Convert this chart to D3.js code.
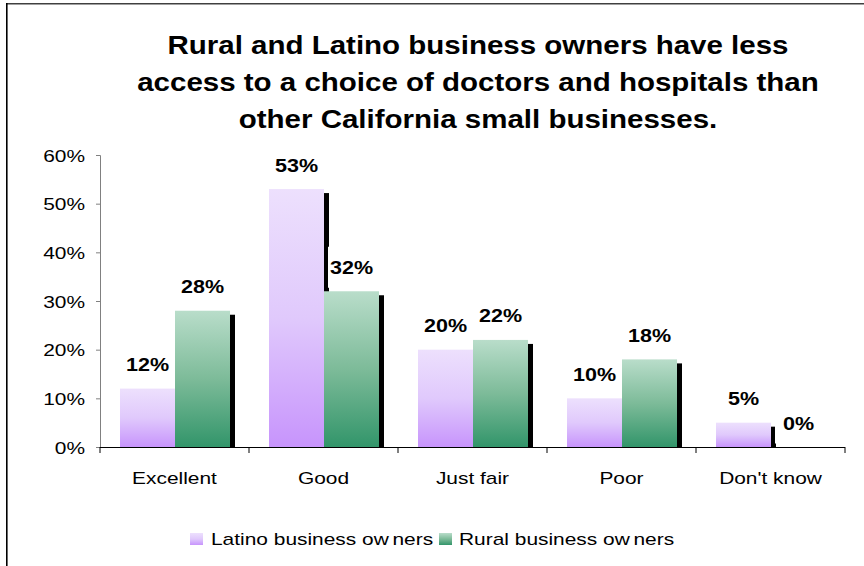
<!DOCTYPE html>
<html>
<head>
<meta charset="utf-8">
<script src="https://cdn.jsdelivr.net/npm/d3@7"></script>
<style>
  body { margin: 0; background: #fff; }
  svg { display: block; font-family: "Liberation Sans", Arial, sans-serif; }
</style>
</head>
<body>
<svg width="864" height="566"></svg>
<script>
// data
const categories = ["Excellent", "Good", "Just fair", "Poor", "Don't know"];
const seriesNames = ["Latino business owners", "Rural business owners"];
const latino = [0.12, 0.53, 0.20, 0.10, 0.05];
const rural = [0.28, 0.32, 0.22, 0.18, 0.00];
const yTicks = [0, 0.1, 0.2, 0.3, 0.4, 0.5, 0.6];
const titleLines = [
  "Rural and Latino business owners have less",
  "access to a choice of doctors and hospitals than",
  "other California small businesses."
];

const SX = 1.23; // the original text is stretched sideways
const svg = d3.select("svg");

// frame (top + left edge only)
svg.append("line").attr("x1", 6).attr("x2", 864).attr("y1", 3.8).attr("y2", 3.8)
  .attr("stroke", "#404040").attr("stroke-width", 1.6);
svg.append("line").attr("x1", 6.8).attr("x2", 6.8).attr("y1", 3).attr("y2", 566)
  .attr("stroke", "#000").attr("stroke-width", 1.6);

// gradients
const defs = svg.append("defs");
function grad(id, stops) {
  const g = defs.append("linearGradient").attr("id", id)
    .attr("x1", 0).attr("y1", 0).attr("x2", 0).attr("y2", 1);
  stops.forEach(s => g.append("stop").attr("offset", s[0]).attr("stop-color", s[1]));
}
grad("gLatino", [[0, "#EDE0FD"], [0.5, "#E0C9FC"], [1, "#C794FC"]]);
grad("gRural", [[0, "#B9DDCA"], [0.5, "#7DBB99"], [1, "#32956A"]]);
const fills = ["url(#gLatino)", "url(#gRural)"];

// helper for stretched text
function stext(parent, x, y, str, size, anchor, bold, sx) {
  return parent.append("text")
    .attr("transform", `translate(${x},${y}) scale(${sx || SX},1)`)
    .attr("text-anchor", anchor)
    .attr("font-size", size)
    .attr("font-weight", bold ? "bold" : "normal")
    .attr("fill", "#000")
    .text(str);
}

// title
titleLines.forEach((t, i) => stext(svg, 478, 54 + i * 37, t, 25, "middle", true, 1.18));

// scales
const x0 = d3.scaleBand().domain(categories).range([100, 845]).paddingInner(0);
const x1 = d3.scaleBand().domain(seriesNames).range([0, 110]);
const groupOffset = 20;
const y = d3.scaleLinear().domain([0, 0.6]).range([447, 155]);

// y axis
const yAxis = svg.append("g").attr("transform", "translate(100,0)")
  .call(d3.axisLeft(y).tickValues(yTicks).tickSize(4).tickFormat(""));
yAxis.select(".domain").attr("stroke", "#808080");
yAxis.selectAll(".tick line").attr("stroke", "#808080");
yTicks.forEach(v => stext(svg, 85, y(v) + 6.5, d3.format(".0%")(v), 17, "end", false));

// data rows
const rows = [];
categories.forEach((c, i) => {
  [latino[i], rural[i]].forEach((v, s) => rows.push({ cat: c, s: s, v: v }));
});
const bx = d => x0(d.cat) + groupOffset + x1(seriesNames[d.s]);
const bw = x1.bandwidth();

// shadows
svg.append("g").selectAll("rect").data(rows.filter(d => d.v > 0)).join("rect")
  .attr("x", d => bx(d) + 5)
  .attr("y", d => y(d.v) + 4)
  .attr("width", bw)
  .attr("height", d => Math.max(0, y(0) - y(d.v) - 4))
  .attr("fill", "#000");

// label boxes
const labW = 41;
svg.append("g").selectAll("rect").data(rows).join("rect")
  .attr("x", d => bx(d) + bw / 2 - labW / 2 - 3)
  .attr("y", d => y(d.v) - 24 - 20.5)
  .attr("width", labW + 6)
  .attr("height", 41)
  .attr("fill", "#fff");

// bars
svg.append("g").selectAll("rect").data(rows.filter(d => d.v > 0)).join("rect")
  .attr("x", d => bx(d))
  .attr("y", d => y(d.v))
  .attr("width", bw)
  .attr("height", d => y(0) - y(d.v))
  .attr("fill", d => fills[d.s]);

// value labels
const labG = svg.append("g");
rows.forEach(d => stext(labG, bx(d) + bw / 2, y(d.v) - 24 + 6.5,
  d3.format(".0%")(d.v), 17.5, "middle", true));

// x axis
const xAxis = svg.append("g").attr("transform", "translate(0,447)")
  .call(d3.axisBottom(x0).tickSize(0).tickFormat(""));
xAxis.select(".domain").attr("stroke", "#000").attr("d", "M100,0.5H845");
svg.append("g").selectAll("line").data(categories.concat(["end"])).join("line")
  .attr("x1", (d, i) => i < categories.length ? x0(d) : x0.range()[1])
  .attr("x2", (d, i) => i < categories.length ? x0(d) : x0.range()[1])
  .attr("y1", 447).attr("y2", 453)
  .attr("stroke", "#000");
categories.forEach(c => stext(svg, x0(c) + x0.bandwidth() / 2, 484, c, 17, "middle", false));

// legend
const legendItems = [
  { name: seriesNames[0], mark: 190, text: 211 },
  { name: seriesNames[1], mark: 439, text: 459 }
];
legendItems.forEach((it, i) => {
  svg.append("rect").attr("x", it.mark).attr("y", 533).attr("width", 13).attr("height", 12)
    .attr("fill", fills[i]);
  const t = stext(svg, it.text, 545, "", 17, "start", false);
  t.append("tspan").text(it.name.slice(0, -4));
  t.append("tspan").attr("dx", 3).text(it.name.slice(-4));
});
</script>
</body>
</html>
